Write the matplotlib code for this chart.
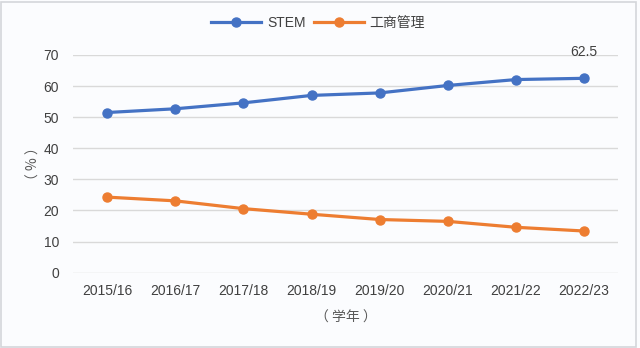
import matplotlib
matplotlib.use("Agg")
import matplotlib.pyplot as plt
from matplotlib.patches import Rectangle

plt.rcParams['font.family'] = ['Liberation Sans', 'Noto Sans CJK SC', 'DejaVu Sans']

# data
years = ['2015/16', '2016/17', '2017/18', '2018/19', '2019/20', '2020/21', '2021/22', '2022/23']
stem = [51.5, 52.7, 54.6, 57.0, 57.8, 60.2, 62.1, 62.5]
business = [24.3, 23.1, 20.6, 18.8, 17.1, 16.5, 14.6, 13.4]
yticks = [0, 10, 20, 30, 40, 50, 60, 70]

blue = '#4472C4'
orange = '#ED7D31'
txt = '#404040'
cjk = ['Noto Sans CJK SC', 'DejaVu Sans']

fig = plt.figure(figsize=(6.4, 3.48), dpi=100)
fig.patch.set_facecolor('#fbfcfe')
fig.patches.append(Rectangle((0.002, 0.004), 0.992, 0.99, transform=fig.transFigure,
                             fill=False, edgecolor='#d4d6da', linewidth=1.2))

ax = fig.add_axes([0.114, 0.2164, 0.852, 0.6256])
ax.set_facecolor('#fbfcfe')

x = range(len(years))
ax.plot(x, stem, color=blue, lw=2.3, marker='o', ms=6.5, label='STEM')
ax.plot(x, business, color=orange, lw=2.3, marker='o', ms=6.5, label='工商管理')

ax.set_xlim(-0.5, len(years) - 0.5)
ax.set_ylim(0, 70)
ax.set_yticks(yticks)
ax.set_xticks(list(x))
ax.set_xticklabels(years)
ax.grid(axis='y', color='#d9d9d9', lw=1)
ax.set_axisbelow(True)
for s in ax.spines.values():
    s.set_visible(False)
ax.tick_params(length=0, labelsize=10, colors=txt, pad=8)
ax.tick_params(axis='y', pad=10)

ax.annotate(f'{stem[-1]}', (x[-1], stem[-1]), xytext=(0, 14), textcoords='offset points',
            ha='center', va='bottom', fontsize=10, color=txt)

# the reference font leaves room inside the full-width brackets
ax.set_xlabel('（ 学年 ）', fontsize=10, color='#595959', labelpad=9, family=cjk)
ax.set_ylabel('（ % ）', fontsize=10, color='#595959', labelpad=2, family=cjk)

fig.legend(loc='center', bbox_to_anchor=(0.497, 0.935), ncol=2, frameon=False,
           fontsize=10, handlelength=3.6, columnspacing=0.6, handletextpad=0.4,
           labelcolor=txt)

fig.savefig('out.png', dpi=100, facecolor=fig.get_facecolor())
